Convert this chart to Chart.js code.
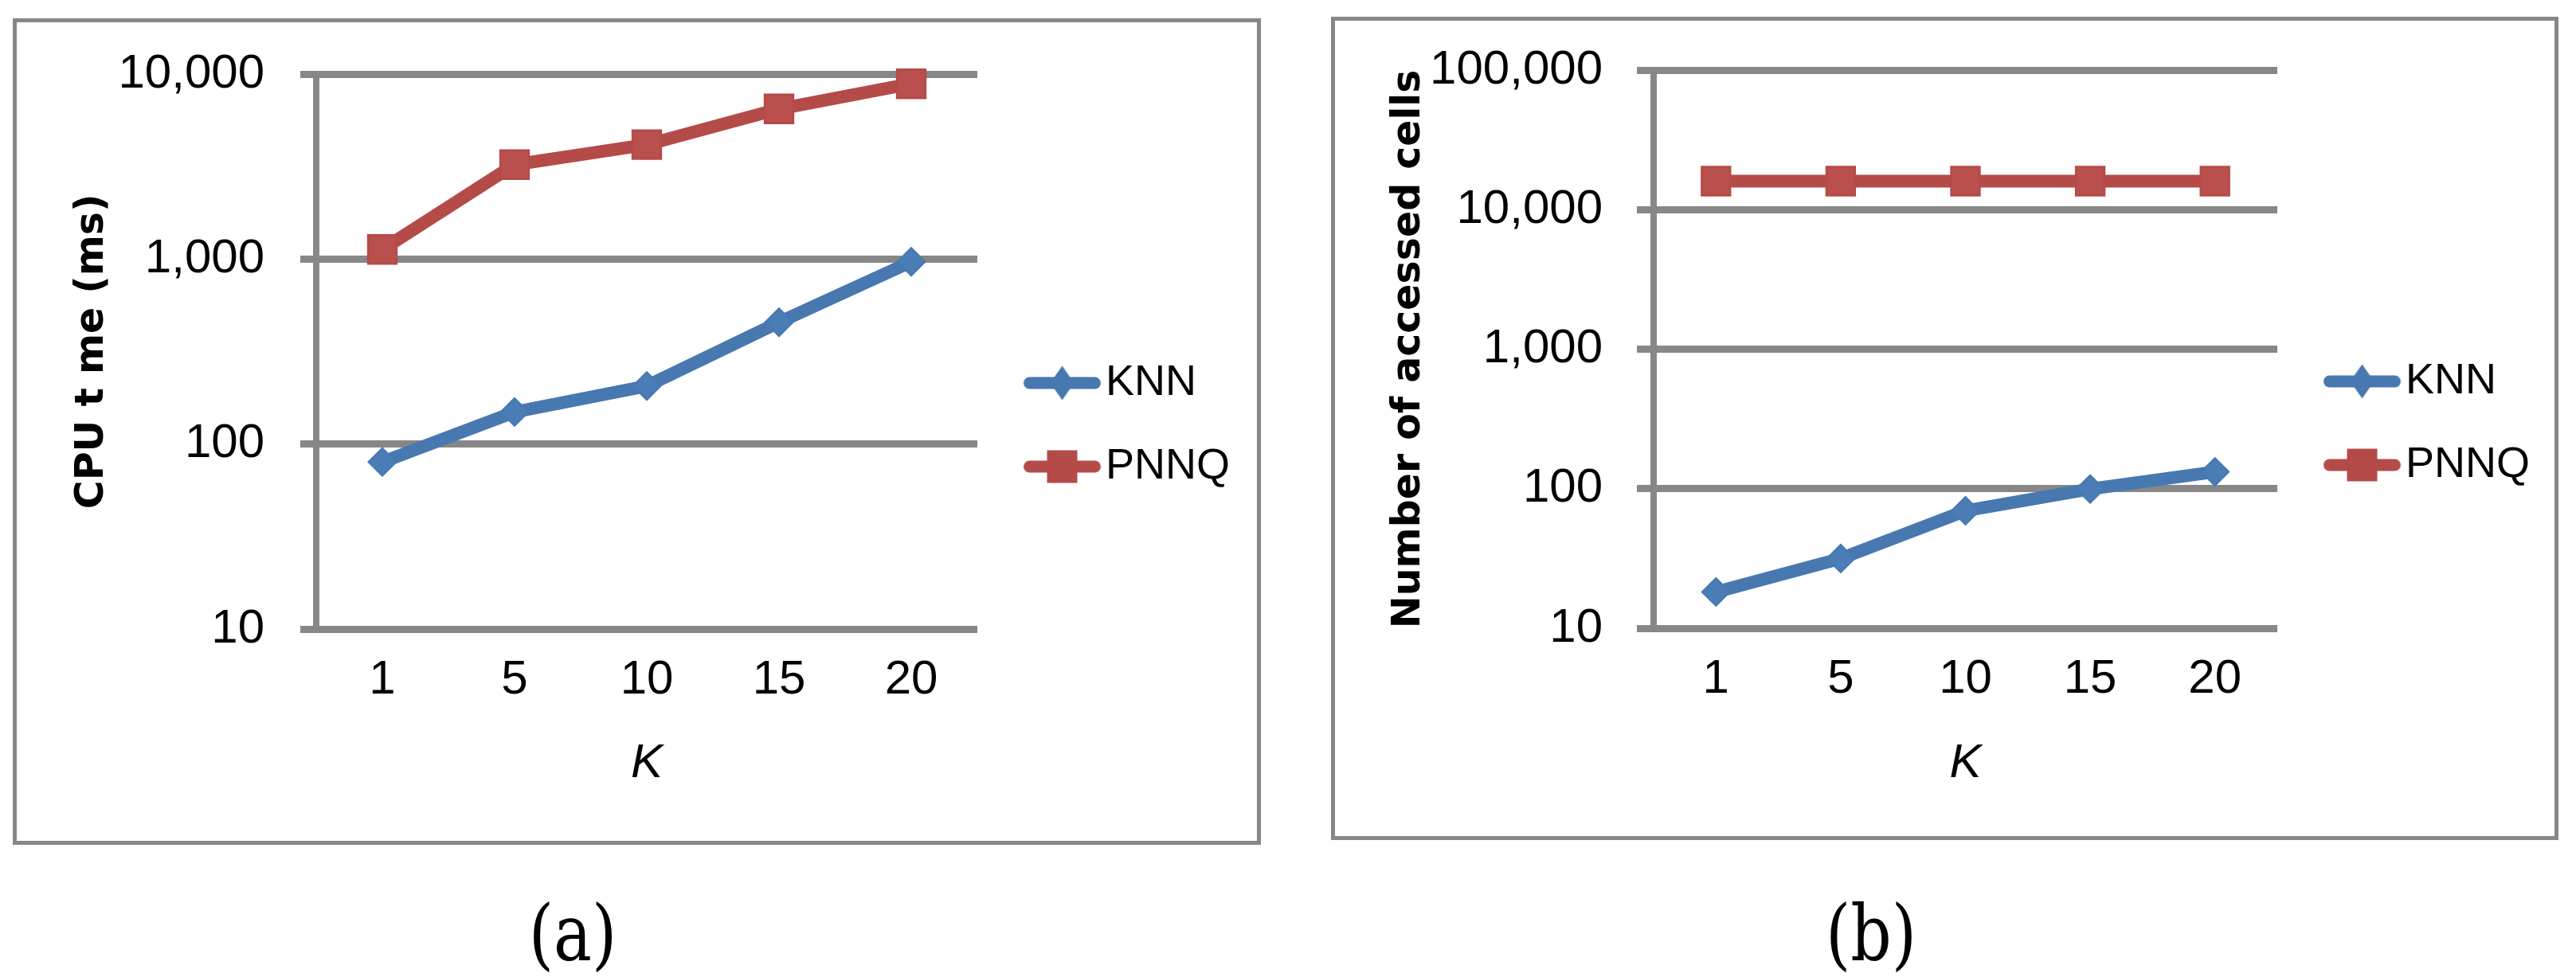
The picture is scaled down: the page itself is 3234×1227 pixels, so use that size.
<!DOCTYPE html>
<html>
<head>
<meta charset="utf-8">
<title>KNN vs PNNQ</title>
<script src="https://cdn.jsdelivr.net/npm/chart.js@4.4.1/dist/chart.umd.min.js"></script>
<style>
    html, body { margin: 0; padding: 0; background: #fff; }
    body { width: 3234px; height: 1227px; position: relative; overflow: hidden; }
    .frame { position: absolute; border: 5px solid #878787; box-sizing: border-box; }
    canvas { position: absolute; top: 0; }
    .caption {
        position: absolute; top: 1172px;
        font-family: 'DejaVu Serif', 'Liberation Serif', serif;
        font-size: 98px; line-height: 1; color: #000;
        transform: translate(-50%, -50%) scaleX(0.82);
        white-space: nowrap;
    }
</style>
</head>
<body>
<div class="frame" style="left:16px; top:23px; width:1567px; height:1038px;"></div>
<div class="frame" style="left:1671px; top:21px; width:1541px; height:1034px;"></div>
<canvas id="chart-a" width="1617" height="1000" style="left:0;"></canvas>
<canvas id="chart-b" width="1617" height="1000" style="left:1617px;"></canvas>
<div class="caption" style="left:719px;">(a)</div>
<div class="caption" style="left:2349px;">(b)</div>

<script>
// K values on the x axis
const kLabels = ['1', '5', '10', '15', '20'];

// (a) CPU time (ms)
const cpuKnn = [80, 149, 206, 455, 967];
const cpuPnnq = [1127, 3240, 4155, 6480, 8860];
const cpuTicks = [10, 100, 1000, 10000];

// (b) number of accessed cells
const cellsKnn = [18.2, 31.6, 69.5, 99.5, 132];
const cellsPnnq = [16000, 16000, 16000, 16000, 16000];
const cellsTicks = [10, 100, 1000, 10000, 100000];

const seriesNames = ['KNN', 'PNNQ'];

document.addEventListener('DOMContentLoaded', function () {
    const BLUE = '#4878b0';
    const BLUE_FILL = '#4a7cb6';
    const RED = '#b54b48';
    const RED_FILL = '#b9504d';
    const GRID = '#878787';
    const SANS = "'Liberation Sans', Arial, sans-serif";

    // Legend swatch: a short line with the marker on it, like Excel draws it
    function makeSwatch(color, shape) {
        const c = document.createElement('canvas');
        c.width = 128;
        c.height = 50;
        const ctx = c.getContext('2d');
        ctx.strokeStyle = color;
        ctx.lineWidth = 15;
        ctx.lineCap = 'round';
        ctx.beginPath();
        ctx.moveTo(37, 25);
        ctx.lineTo(119, 25);
        ctx.stroke();
        ctx.fillStyle = color;
        ctx.beginPath();
        if (shape === 'diamond') {
            ctx.moveTo(78, 3.5);
            ctx.lineTo(93, 25);
            ctx.lineTo(78, 46.5);
            ctx.lineTo(63, 25);
        } else {
            ctx.rect(59, 4.5, 38, 41);
        }
        ctx.closePath();
        ctx.fill();
        return c;
    }

    const swatches = [makeSwatch(BLUE, 'diamond'), makeSwatch(RED, 'square')];

    // Build one panel; geometry is given in canvas pixels
    function drawPanel(canvasId, knn, pnnq, ticks, yTitle, g) {
        const ctx = document.getElementById(canvasId).getContext('2d');
        const options = {
            responsive: false,
            animation: false,
            events: [],
            layout: {
                padding: { left: g.padLeft, top: g.top, right: 60, bottom: 5 }
            },
            plugins: {
                tooltip: { enabled: false },
                legend: {
                    position: 'right',
                    align: 'start',
                    title: {
                        display: true,
                        text: ' ',
                        font: { size: 10 },
                        padding: { top: g.legendOffset, bottom: 0 }
                    },
                    labels: {
                        usePointStyle: true,
                        pointStyleWidth: 83,
                        padding: 51,
                        color: '#000',
                        font: { family: SANS, size: 54 },
                        generateLabels: function (chart) {
                            const items = Chart.defaults.plugins.legend.labels.generateLabels(chart);
                            return items.map((item, i) => Object.assign(item, { pointStyle: swatches[i] }));
                        }
                    }
                }
            },
            scales: {
                x: {
                    type: 'category',
                    offset: true,
                    grid: { display: false, drawTicks: false },
                    border: { display: false },
                    ticks: {
                        color: '#000',
                        padding: 28,
                        maxRotation: 0,
                        font: { family: SANS, size: 60 }
                    },
                    title: {
                        display: true,
                        text: 'K',
                        color: '#000',
                        padding: 0,
                        font: { family: SANS, size: 60, style: 'italic' }
                    },
                    afterFit: function (scale) {
                        scale.height = 995 - g.bottom;
                    }
                },
                y: {
                    type: 'logarithmic',
                    min: ticks[0],
                    max: ticks[ticks.length - 1],
                    grid: {
                        color: GRID,
                        lineWidth: 9,
                        drawTicks: true,
                        tickLength: g.tickLength,
                        tickColor: GRID
                    },
                    border: { display: true, color: GRID, width: 8 },
                    afterBuildTicks: function (scale) {
                        scale.ticks = ticks.map(v => ({ value: v }));
                    },
                    ticks: {
                        color: '#000',
                        padding: g.labelGap,
                        font: { family: SANS, size: 60 },
                        callback: value => Number(value).toLocaleString('en-US')
                    },
                    title: {
                        display: true,
                        text: yTitle,
                        color: '#000',
                        padding: 0,
                        font: { family: "'DejaVu Sans', Verdana, sans-serif", size: 49, weight: 'bold' }
                    },
                    afterFit: function (scale) {
                        scale.width = g.left - g.padLeft;
                    }
                }
            }
        };

        const chart = new Chart(ctx, {
            type: 'line',
            data: {
                labels: kLabels,
                datasets: [{
                    label: seriesNames[0],
                    data: knn,
                    borderColor: BLUE,
                    backgroundColor: BLUE,
                    borderWidth: 16,
                    pointStyle: 'rectRot',
                    pointRadius: 17.5,
                    pointBorderWidth: 2,
                    pointBorderColor: BLUE,
                    pointBackgroundColor: BLUE_FILL,
                    fill: false,
                    tension: 0,
                    clip: false
                }, {
                    label: seriesNames[1],
                    data: pnnq,
                    borderColor: RED,
                    backgroundColor: RED,
                    borderWidth: 16,
                    pointStyle: 'rect',
                    pointRadius: 25,
                    pointBorderWidth: 3,
                    pointBorderColor: RED,
                    pointBackgroundColor: RED_FILL,
                    fill: false,
                    tension: 0,
                    clip: false
                }]
            },
            options: options
        });

        // Put the right edge of the plot where the reference has it
        options.layout.padding.right += chart.chartArea.right - g.right;
        chart.update();
        return chart;
    }

    drawPanel('chart-a', cpuKnn, cpuPnnq, cpuTicks, 'CPU t me (ms)', {
        padLeft: 87, left: 397, right: 1227, top: 93, bottom: 790,
        tickLength: 20, labelGap: 45, legendOffset: 298
    });

    drawPanel('chart-b', cellsKnn, cellsPnnq, cellsTicks, 'Number of accessed cells', {
        padLeft: 123, left: 459, right: 1242, top: 88, bottom: 789,
        tickLength: 21, labelGap: 43, legendOffset: 301
    });
});
</script>
</body>
</html>
